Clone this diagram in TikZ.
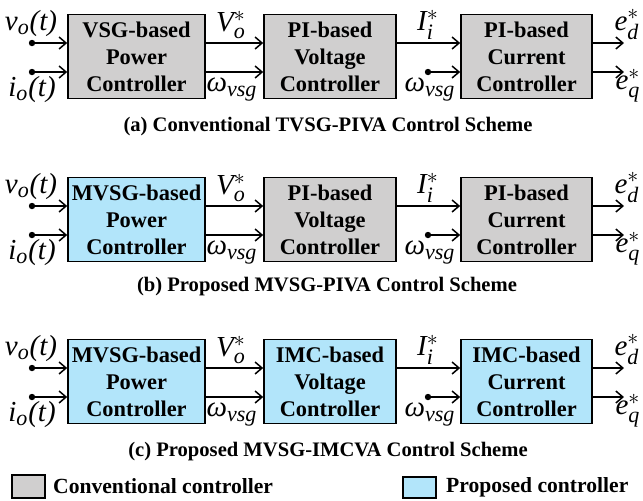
\documentclass[tikz,border=0pt]{standalone}
\usepackage{amsmath}
\usepackage{fontspec}
\setmainfont{Liberation Serif}
\usetikzlibrary{positioning,arrows.meta,calc}
\definecolor{convgray}{RGB}{208,207,207}
\definecolor{propblue}{RGB}{178,229,250}
\DeclareMathSizes{14.5}{14.5}{11}{9}
\newcommand{\sgl}[1]{\textit{#1}}
\tikzset{
  ctrl/.style={rectangle, draw=black, line width=0.8pt, align=center, inner sep=0pt,
               minimum height=42pt, font=\bfseries\fontsize{11.2}{13.5}\selectfont},
  conv/.style={ctrl, fill=convgray},
  prop/.style={ctrl, fill=propblue},
  sig/.style={-{Straight Barb[length=3.5pt,width=6pt]}, line width=0.75pt},
  lbl/.style={inner sep=0pt, font=\fontsize{14.5}{16}\selectfont},
  capt/.style={font=\bfseries\fontsize{10.3}{12}\selectfont},
  legtxt/.style={inner sep=0pt, font=\bfseries\fontsize{10.8}{12}\selectfont},
}
\begin{document}
\begin{tikzpicture}[x=0.5pt,y=-0.5pt]
\useasboundingbox (0,0) rectangle (643,500);
% (a) conventional scheme
\node[conv, minimum width=68.5pt] (pa) at (136.5,56.5) {VSG-based\\Power\\Controller};
\node[conv, minimum width=66pt] (va) at (330,56.5) {PI-based\\Voltage\\Controller};
\node[conv, minimum width=65.5pt] (ca) at (526.5,56.5) {PI-based\\Current\\Controller};
% (b) MVSG + PI loops
\node[prop, minimum width=68.5pt] (pb) at (136.5,219.5) {MVSG-based\\Power\\Controller};
\node[conv, minimum width=66pt] (vb) at (330,219.5) {PI-based\\Voltage\\Controller};
\node[conv, minimum width=65.5pt] (cb) at (526.5,219.5) {PI-based\\Current\\Controller};
% (c) MVSG + IMC loops
\node[prop, minimum width=68.5pt] (pc) at (136.5,381.5) {MVSG-based\\Power\\Controller};
\node[prop, minimum width=66pt] (vc) at (330,381.5) {IMC-based\\Voltage\\Controller};
\node[prop, minimum width=65.5pt] (cc) at (526.5,381.5) {IMC-based\\Current\\Controller};

% signals, same in every row
\foreach \r/\yc in {a/56.5, b/219.5, c/381.5}{
  \coordinate (vin\r) at (32,{\yc-13.5});
  \coordinate (iin\r) at (32,{\yc+15.5});
  \coordinate (win\r) at (428,{\yc+15.5});
  \coordinate (ed\r) at (624,{\yc-13.5});
  \coordinate (eq\r) at (624,{\yc+15.5});
  \fill (vin\r) circle (1.6pt) (iin\r) circle (1.6pt) (win\r) circle (1.6pt);
  \draw[sig] (vin\r) -- (vin\r -| p\r.west);
  \draw[sig] (iin\r) -- (iin\r -| p\r.west);
  \draw[sig] (vin\r -| p\r.east) -- (vin\r -| v\r.west);
  \draw[sig] (iin\r -| p\r.east) -- (iin\r -| v\r.west);
  \draw[sig] (vin\r -| v\r.east) -- (vin\r -| c\r.west);
  \draw[sig] (win\r) -- (win\r -| c\r.west);
  \draw[sig] (vin\r -| c\r.east) -- (ed\r);
  \draw[sig] (iin\r -| c\r.east) -- (eq\r);
  \node[lbl] (vo\r) at (31,{\yc-33}) {$\sgl{v}_{\sgl{o}}\sgl{(t)}$};
  \node[lbl] (io\r) at (32,{\yc+33}) {$\sgl{i}_{\sgl{o}}\sgl{(t)}$};
  \node[lbl] (vr\r) at (231,{\yc-31.5}) {$\sgl{V}_{\sgl{o}}^{*}$};
  \node[lbl] (wp\r) at (232,{\yc+33}) {$\sgl{ω}_{\sgl{vsg}}$};
  \node[lbl] (ir\r) at (428,{\yc-32}) {$\sgl{I}_{\sgl{i}}^{*}$};
  \node[lbl] (wv\r) at (430,{\yc+33}) {$\sgl{ω}_{\sgl{vsg}}$};
  \node[lbl] (edl\r) at (627,{\yc-32}) {$\sgl{e}_{\sgl{d}}^{*}$};
  \node[lbl] (eql\r) at (628,{\yc+29}) {$\sgl{e}_{\sgl{q}}^{*}$};
}

% captions
\node[capt] (capa) at (328,127) {(a) Conventional TVSG-PIVA Control Scheme};
\node[capt] (capb) at (327,287) {(b) Proposed MVSG-PIVA Control Scheme};
\node[capt] (capc) at (328,452) {(c) Proposed MVSG-IMCVA Control Scheme};

% legend
\node[conv, minimum width=16.5pt, minimum height=11.5pt] (lgconv) at (28.5,486.5) {};
\node[legtxt, right=3.5pt of lgconv] (lgconvt) {Conventional controller};
\node[prop, minimum width=16.5pt, minimum height=10.5pt] (lgprop) at (419.5,487.5) {};
\node[legtxt, right=4.5pt of lgprop] (lgpropt) {Proposed controller};
\end{tikzpicture}
\end{document}
